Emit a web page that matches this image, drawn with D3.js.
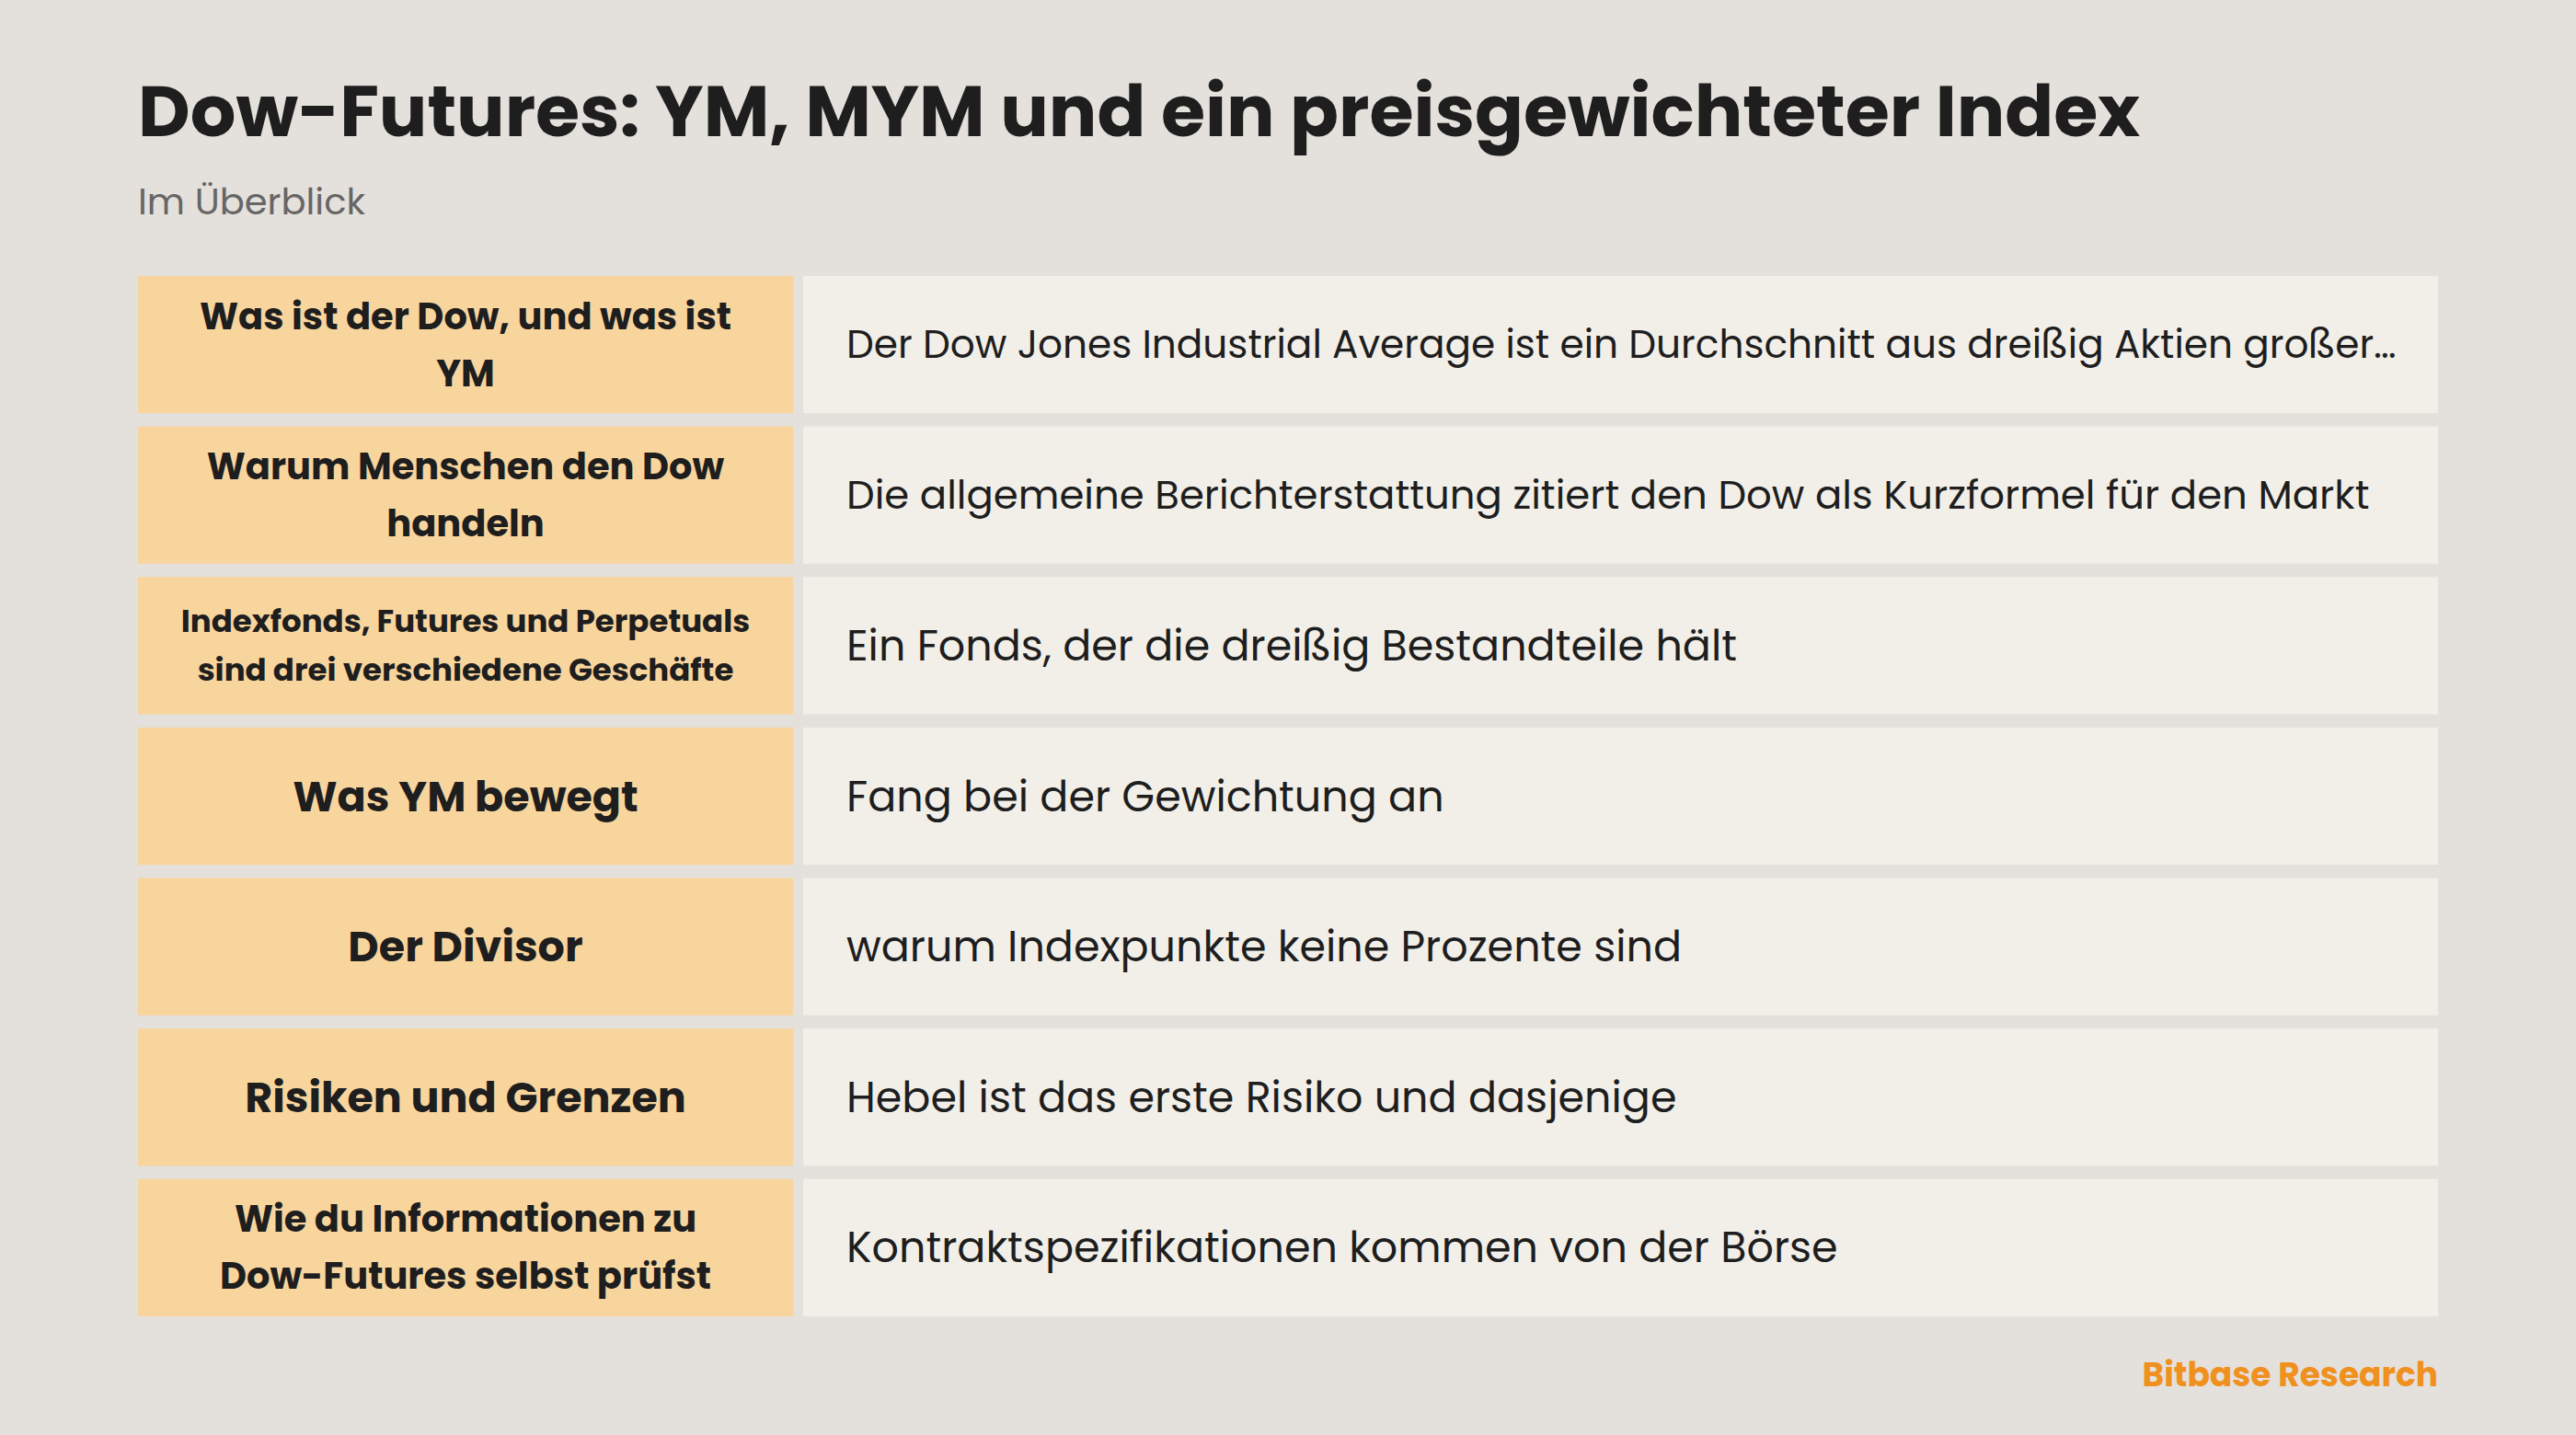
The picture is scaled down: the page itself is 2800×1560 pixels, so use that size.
<!DOCTYPE html>
<html><head><meta charset="utf-8">
<script src="https://cdn.jsdelivr.net/npm/d3@7"></script>
<style>body{margin:0;background:#e4e0db}</style>
</head><body>
<script>
const titleText = "Dow-Futures: YM, MYM und ein preisgewichteter Index";
const subtitleText = "Im Überblick";
const sourceText = "Bitbase Research";
const categories = [
  ["Was ist der Dow, und was ist", "YM"],
  ["Warum Menschen den Dow", "handeln"],
  ["Indexfonds, Futures und Perpetuals", "sind drei verschiedene Geschäfte"],
  ["Was YM bewegt"],
  ["Der Divisor"],
  ["Risiken und Grenzen"],
  ["Wie du Informationen zu", "Dow-Futures selbst prüfst"]
];
const labelSizes = [40, 40, 34, 46, 46, 46, 40];
const descSizes = [42.2, 43.4, 46, 46, 46, 46, 46];
const descriptions = [
  "Der Dow Jones Industrial Average ist ein Durchschnitt aus dreißig Aktien großer US-Unternehmen",
  "Die allgemeine Berichterstattung zitiert den Dow als Kurzformel für den Markt",
  "Ein Fonds, der die dreißig Bestandteile hält",
  "Fang bei der Gewichtung an",
  "warum Indexpunkte keine Prozente sind",
  "Hebel ist das erste Risiko und dasjenige",
  "Kontraktspezifikationen kommen von der Börse"
];
const W = 2800, H = 1560, font = "Poppins, Inter, 'Open Sans', sans-serif";
const svg = d3.select("body").append("svg").attr("width", W).attr("height", H);
svg.append("rect").attr("width", W).attr("height", H).attr("fill", "#e4e0db");
svg.append("text").attr("x", 150).attr("y", 148).text(titleText)
  .attr("font-family", font).attr("font-weight", 700).attr("font-size", 78).attr("fill", "#1e1e1e");
svg.append("text").attr("x", 150).attr("y", 233).text(subtitleText)
  .attr("font-family", font).attr("font-size", 40).attr("fill", "#666");
const y = d3.scaleBand().domain(d3.range(categories.length)).range([300, 1431]).paddingInner(0.088).paddingOuter(0);
const leftX = 150, leftW = 712, rightX = 873, rightW = 1777;
const rows = svg.selectAll("g.row").data(categories).join("g").attr("class", "row")
  .attr("transform", (d, i) => `translate(0,${y(i)})`);
const bh = y.bandwidth();
rows.append("rect").attr("x", leftX).attr("width", leftW).attr("height", bh).attr("fill", "#f9d59e");
rows.append("rect").attr("x", rightX).attr("width", rightW).attr("height", bh).attr("fill", "#f2efe9");
rows.each(function(lines, i) {
  const g = d3.select(this), fs = labelSizes[i], lh = lines.length > 1 && fs < 36 ? 53 : fs * 1.55;
  lines.forEach((l, k) => {
    g.append("text").attr("x", leftX + leftW / 2)
      .attr("y", bh / 2 + (k - (lines.length - 1) / 2) * lh)
      .attr("dy", "0.35em").attr("text-anchor", "middle")
      .attr("font-family", font).attr("font-weight", 700).attr("font-size", fs).attr("fill", "#1e1e1e").text(l);
  });
  const t = g.append("text").attr("x", 920).attr("y", bh / 2).attr("dy", "0.35em")
    .attr("font-family", font).attr("font-size", descSizes[i]).attr("fill", "#1e1e1e").text(descriptions[i]);
  const maxW = 1690;
  let s = descriptions[i];
  while (t.node().getComputedTextLength() > maxW && s.length > 1) {
    s = s.slice(0, -1).trimEnd(); t.text(s + "…");
  }
});
svg.append("text").attr("x", 2650).attr("y", 1507).attr("text-anchor", "end").text(sourceText)
  .attr("font-family", font).attr("font-weight", 700).attr("font-size", 36).attr("fill", "#f0901e");
</script>
</body></html>
